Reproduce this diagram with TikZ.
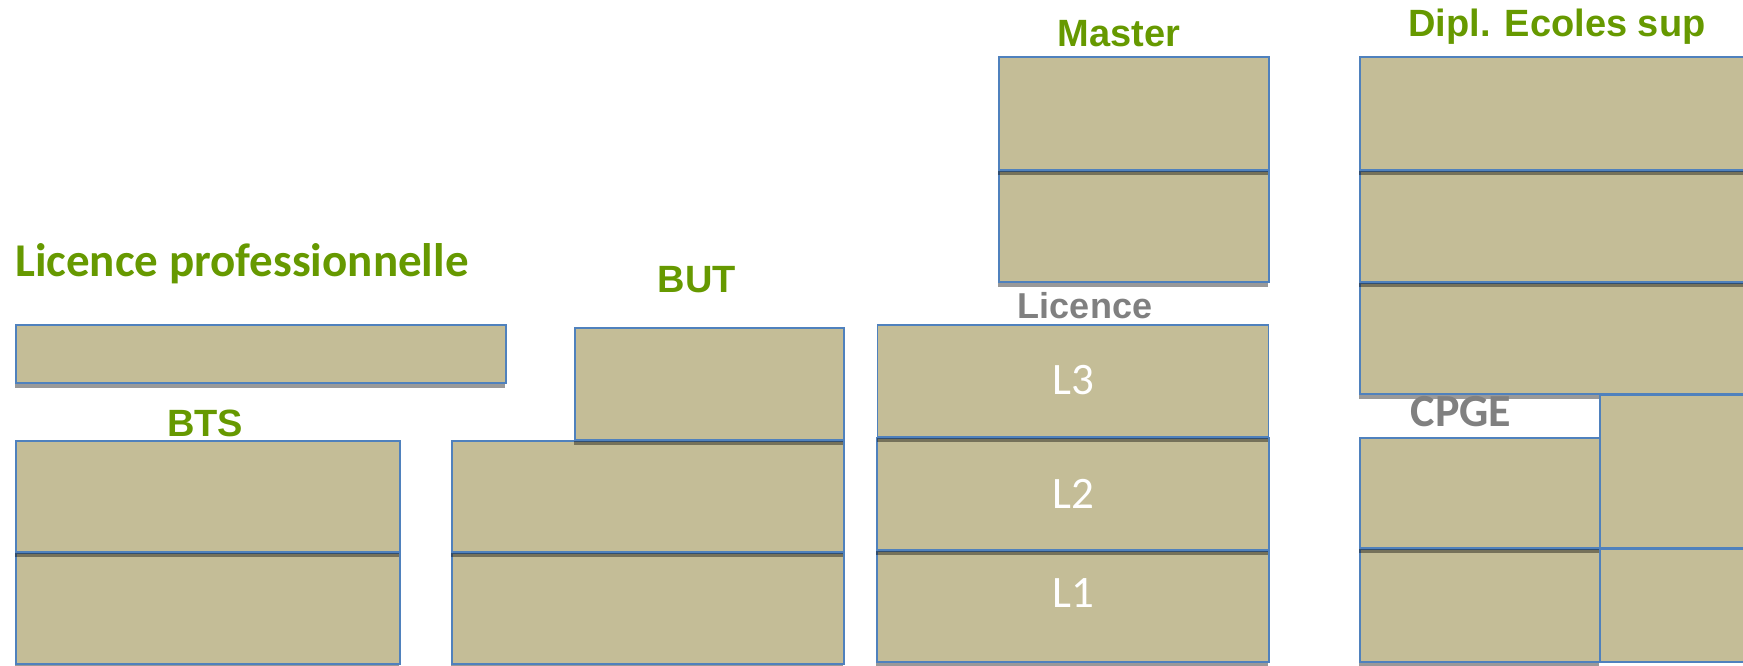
\documentclass[tikz,border=0pt]{standalone}
\usepackage{fontspec}
\usepackage{tikz}
\usetikzlibrary{shadows}
\usetikzlibrary{positioning}
\usepackage{color}

\newfontfamily\arialfont{Liberation Sans}
\newfontfamily\calibrifont{Carlito}

\definecolor{boxtan}{HTML}{C4BD97}
\definecolor{boxblue}{HTML}{4F81BD}
\definecolor{titlegreen}{HTML}{669900}
\definecolor{cyclegrey}{HTML}{808080}

\tikzset{
  flat/.style={draw=boxblue, fill=boxtan, line width=1.5pt, inner sep=0pt, outer sep=0pt, anchor=north west},
  block/.style={flat, drop shadow={shadow xshift=-1pt, shadow yshift=-5pt, fill=black, opacity=0.4}},
  wh/.style 2 args={minimum width=#1, minimum height=#2},
  title/.style={text=titlegreen, font=\arialfont\bfseries\fontsize{38}{40}\selectfont, inner sep=0pt, anchor=base},
  protitle/.style={text=titlegreen, font=\calibrifont\bfseries\fontsize{47}{50}\selectfont, inner sep=0pt, anchor=base west},
  cycle/.style={text=cyclegrey, font=\arialfont\bfseries\fontsize{36}{38}\selectfont, inner sep=0pt, anchor=base},
  year/.style={text=white, font=\calibrifont\fontsize{45}{48}\selectfont, inner sep=0pt, anchor=base}
}

\begin{document}
\begin{tikzpicture}[x=1pt, y=-1pt]
  \useasboundingbox (0,0) rectangle (1743,666);
  \clip (0,0) rectangle (1743,666);
  % first year
  \node[block, wh={384}{111}] (bts1) at (16,553) {};
  \node[block, wh={392}{111}] (but1) at (452,553) {};
  \node[block, wh={392}{111}] (l1) at (877,551) {};
  \node[block, wh={240}{113}] (cpge1) at (1360,549) {};
  % second year
  \node[block, wh={384}{111}, above=1pt of bts1] (bts2) {};
  \node[block, wh={392}{111}, above=1pt of but1] (but2) {};
  \node[block, wh={392}{112}, above=1pt of l1] (l2) {};
  \node[block, wh={240}{110}, above=1pt of cpge1] (cpge2) {};
  % third year
  \node[block, wh={490}{58}] (lp) at (16,325) {};
  \node[block, wh={269}{112}, above=1pt of but2.north east, anchor=south east] (but3) {};
  \node[block, wh={391}{112}, above=1pt of l2] (l3) {};
  \node[block, wh={400}{111}] (d1) at (1360,283) {};
  % fourth and fifth year
  \node[block, wh={270}{111}] (m1) at (999,171) {};
  \node[block, wh={400}{111}, above=1pt of d1] (d2) {};
  \node[block, wh={270}{113}, above=1pt of m1] (m2) {};
  \node[block, wh={400}{113}, above=1pt of d2] (d3) {};
  % right column
  \node[flat, wh={160}{113}] (r1) at (1600,549) {};
  \node[flat, wh={160}{153}, above=1pt of r1] (r2) {};
  % labels
  \node[protitle] (lplab) at (15,276) {Licence professionnelle};
  \node[title] (btslab) at (205,436) {BTS};
  \node[title] (butlab) at (697,292) {BUT};
  \node[title] (mlab) at (1119,47) {Master};
  \node[title] (dlab) at (1557,37) {Dipl. Ecoles sup};
  \node[cycle] (llab) at (1085,318) {Licence};
  \node[cycle, font=\calibrifont\bfseries\fontsize{46}{48}\selectfont] (cpgelab) at (1461,426) {CPGE};
  \node[year] (l3lab) at (1073,394) {L3};
  \node[year] (l2lab) at (1073,508) {L2};
  \node[year] (l1lab) at (1073,607) {L1};
\end{tikzpicture}
\end{document}
